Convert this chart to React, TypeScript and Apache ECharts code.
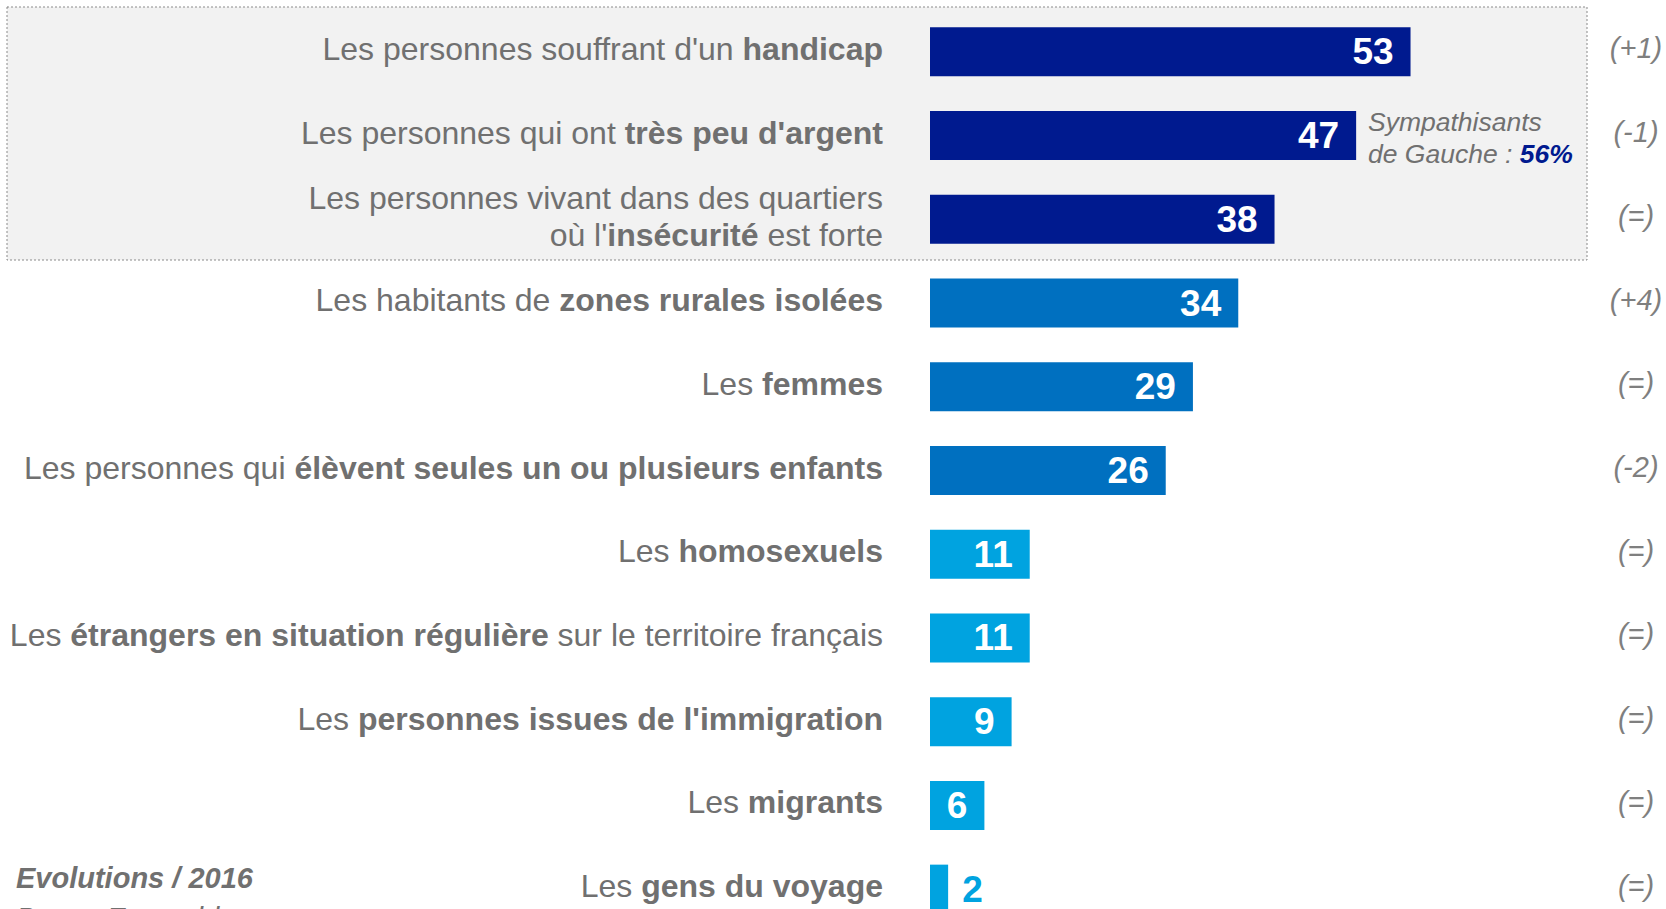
import React, { useEffect, useRef } from "react";
import * as echarts from "echarts";

const categories = [
  "Les personnes souffrant d'un {b|handicap}",
  "Les personnes qui ont {b|très peu d'argent}",
  "Les personnes vivant dans des quartiers\noù l'{b|insécurité} est forte",
  "Les habitants de {b|zones rurales isolées}",
  "Les {b|femmes}",
  "Les personnes qui {b|élèvent seules un ou plusieurs enfants}",
  "Les {b|homosexuels}",
  "Les {b|étrangers en situation régulière} sur le territoire français",
  "Les {b|personnes issues de l'immigration}",
  "Les {b|migrants}",
  "Les {b|gens du voyage}",
];
const values = [53, 47, 38, 34, 29, 26, 11, 11, 9, 6, 2];
const changes = ["(+1)", "(-1)", "(=)", "(+4)", "(=)", "(-2)", "(=)", "(=)", "(=)", "(=)", "(=)"];
const groupColors = ["#001A8F", "#001A8F", "#001A8F", "#0070C0", "#0070C0", "#0070C0", "#00A3E0", "#00A3E0", "#00A3E0", "#00A3E0", "#00A3E0"];
const noteLine1 = "Sympathisants";
const noteLine2 = "de Gauche : ";
const noteValue = "56%";
const footnote1 = "Evolutions / 2016";
const footnote2 = "Base : Ensemble";

const FONT = "'Liberation Sans', Arial, sans-serif";
const GRAY = "#707070";

export default function App() {
  const ref = useRef<HTMLDivElement>(null);
  useEffect(() => {
    document.body.style.margin = "0";
    if (!ref.current) return;
    const chart = echarts.init(ref.current, null, { renderer: "svg" });
    const data = values.map((v, i) => {
      const item: any = { value: v, itemStyle: { color: groupColors[i] } };
      if (v < 5) {
        item.label = { position: "right", color: "#00A3E0", distance: 14 };
      }
      return item;
    });
    chart.setOption({
      animation: false,
      textStyle: { fontFamily: FONT },
      graphic: [
        {
          type: "rect",
          z: -10,
          shape: { x: 7, y: 7, width: 1580, height: 253 },
          style: { fill: "#F2F2F2", stroke: "#8A8A8A", lineWidth: 1, lineDash: [2, 2] },
        },
        {
          type: "text",
          x: 1368,
          y: 106,
          style: {
            text: `{i|${noteLine1}}\n{i|${noteLine2}}{v|${noteValue}}`,
            verticalAlign: "top",
            align: "left",
            rich: {
              i: { fontFamily: FONT, fontStyle: "italic", fontSize: 26.5, fill: GRAY, lineHeight: 32 },
              v: { fontFamily: FONT, fontStyle: "italic", fontWeight: "bold", fontSize: 26.5, fill: "#001A8F", lineHeight: 32 },
            },
          },
        },
        {
          type: "text",
          x: 16,
          y: 878,
          style: {
            text: footnote1,
            fontFamily: FONT,
            fontStyle: "italic",
            fontWeight: "bold",
            fontSize: 29,
            fill: GRAY,
            verticalAlign: "middle",
          },
        },
        {
          type: "text",
          x: 16,
          y: 918,
          style: {
            text: footnote2,
            fontFamily: FONT,
            fontStyle: "italic",
            fontSize: 29,
            fill: GRAY,
            verticalAlign: "middle",
          },
        },
      ],
      grid: { left: 930, top: 10, width: 544, height: 921, containLabel: false, outerBoundsMode: "none" },
      xAxis: {
        type: "value",
        min: 0,
        max: 60,
        show: false,
      },
      yAxis: [
        {
          type: "category",
          inverse: true,
          data: categories,
          axisLine: { show: false },
          axisTick: { show: false },
          axisLabel: {
            margin: 47,
            fontFamily: FONT,
            fontSize: 32,
            color: GRAY,
            lineHeight: 37,
            align: "right",
            padding: [0, 0, 6, 0],
            rich: {
              b: { fontFamily: FONT, fontSize: 32, fontWeight: "bold", color: GRAY, lineHeight: 37 },
            },
          },
        },
        {
          type: "category",
          inverse: true,
          position: "right",
          data: changes,
          axisLine: { show: false },
          axisTick: { show: false },
          axisLabel: {
            margin: 162,
            align: "center",
            verticalAlign: "bottom",
            lineHeight: 7,
            fontFamily: FONT,
            fontSize: 29,
            fontStyle: "italic",
            color: "#7F7F7F",
          },
        },
      ],
      series: [
        {
          type: "bar",
          yAxisIndex: 0,
          data,
          barWidth: 49,
          label: {
            show: true,
            position: "insideRight",
            distance: 17,
            color: "#FFFFFF",
            fontFamily: FONT,
            fontWeight: "bold",
            fontSize: 37,
          },
        },
      ],
    });
    return () => chart.dispose();
  }, []);
  return <div ref={ref} style={{ width: 1666, height: 940 }} />;
}
